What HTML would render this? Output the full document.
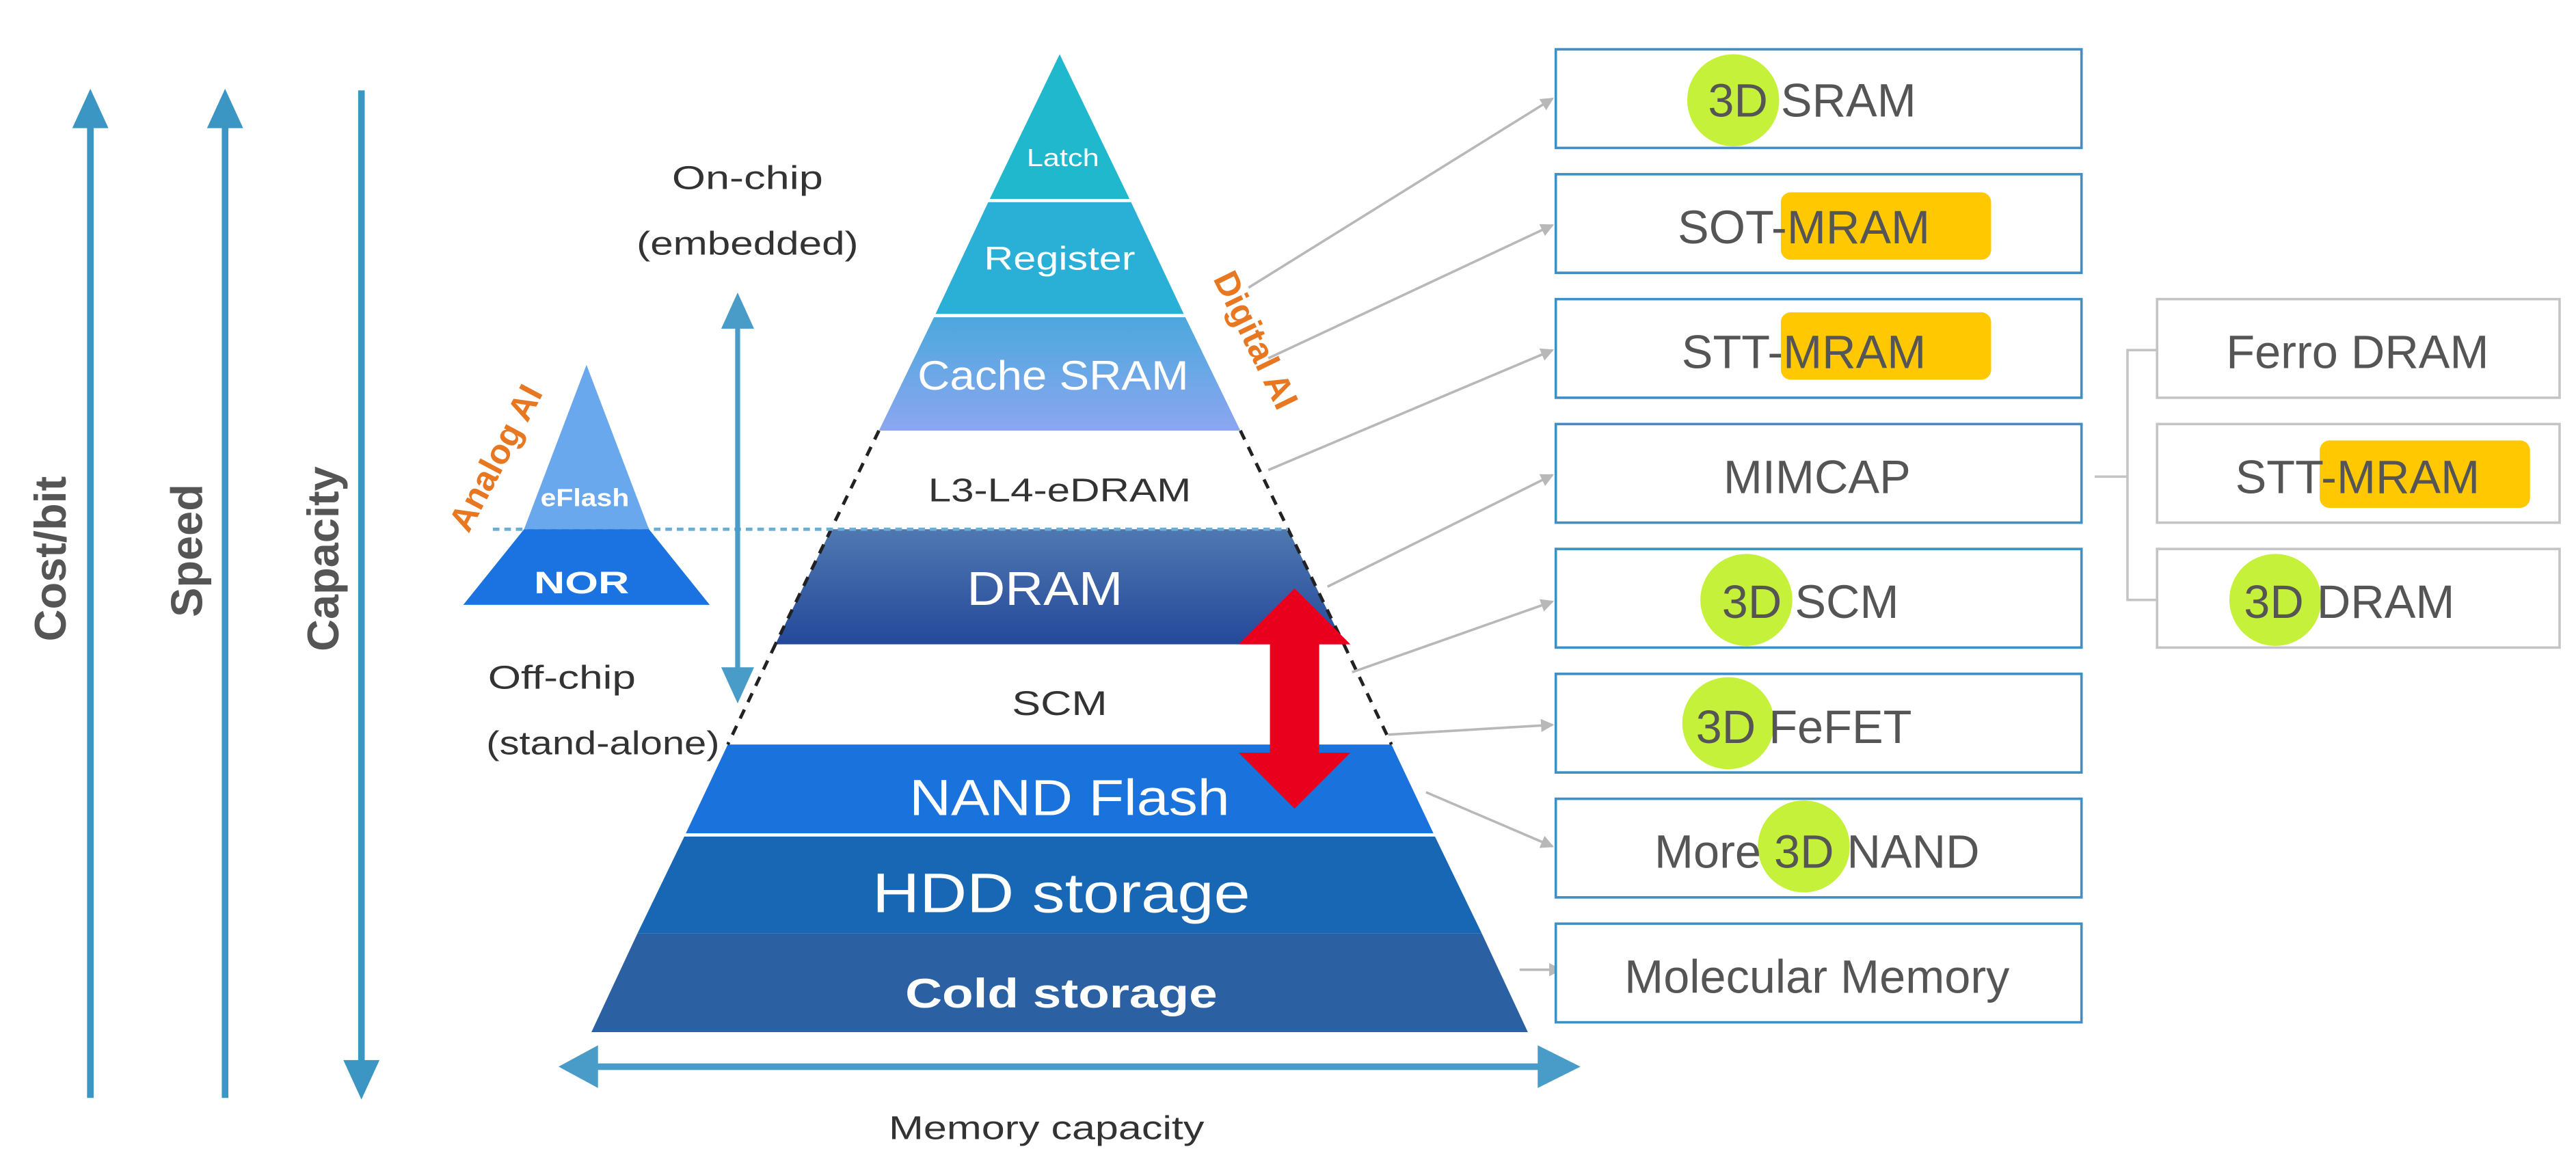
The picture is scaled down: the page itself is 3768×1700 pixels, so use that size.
<!DOCTYPE html>
<html><head><meta charset="utf-8"><style>html,body{margin:0;padding:0;background:#fff}svg{display:block}</style></head><body>
<svg width="3768" height="1700" viewBox="0 0 1568 707" preserveAspectRatio="none" xmlns="http://www.w3.org/2000/svg" font-family="Liberation Sans, sans-serif">
<defs>
<linearGradient id="dram" x1="0" y1="0" x2="0" y2="1"><stop offset="0" stop-color="#4f78b0"/><stop offset="1" stop-color="#24499a"/></linearGradient>
<linearGradient id="cache" x1="0" y1="0" x2="0" y2="1"><stop offset="0" stop-color="#4aa8dc"/><stop offset="1" stop-color="#8ca6f0"/></linearGradient>
<marker id="ga" markerWidth="8" markerHeight="8" refX="7" refY="4" orient="auto" markerUnits="userSpaceOnUse"><path d="M0,0 L8,4 L0,8 Z" fill="#b8b8b8"/></marker>
</defs>
<g fill="#3b96c3" stroke="#3b96c3">
<line x1="55" y1="75" x2="55" y2="668" stroke-width="4"/><path d="M44,78 L55,54 L66,78 Z" stroke="none"/>
<line x1="137" y1="75" x2="137" y2="668" stroke-width="4"/><path d="M126,78 L137,54 L148,78 Z" stroke="none"/>
<line x1="220" y1="55" x2="220" y2="648" stroke-width="4"/><path d="M209,645 L220,669 L231,645 Z" stroke="none"/>
</g>
<g fill="#555" font-weight="bold" font-size="27">
<text transform="translate(40,340) rotate(-90)" text-anchor="middle">Cost/bit</text>
<text transform="translate(123,335) rotate(-90)" text-anchor="middle">Speed</text>
<text transform="translate(206,340) rotate(-90)" text-anchor="middle">Capacity</text>
</g>
<polygon points="645,33 602,122 688,122" fill="#1fb8cc"/>
<polygon points="602,122 688,122 721,192 569,192" fill="#2ab0d6"/>
<polygon points="569,192 721,192 755,262 535,262" fill="url(#cache)"/>
<polygon points="506,322 784,322 818,392 472,392" fill="url(#dram)"/>
<polygon points="443,453 847,453 873,508 417,508" fill="#1a72dc"/>
<polygon points="417,508 873,508 902,568 388,568" fill="#1767b4"/>
<polygon points="388,568 902,568 930,628 360,628" fill="#2b60a2"/>
<g stroke="#fff" stroke-width="2"><line x1="600" y1="122" x2="690" y2="122"/><line x1="567" y1="192" x2="723" y2="192"/><line x1="415" y1="508" x2="875" y2="508"/></g>
<g stroke="#222" stroke-width="2" stroke-dasharray="6,5"><line x1="535" y1="262" x2="472" y2="392"/><line x1="755" y1="262" x2="818" y2="392"/><line x1="472" y1="392" x2="443" y2="453"/><line x1="818" y1="392" x2="847" y2="453"/></g>
<line x1="300" y1="322" x2="784" y2="322" stroke="#6aaed6" stroke-width="2" stroke-dasharray="4,3"/>
<polygon points="357,222 319,322 395,322" fill="#6aa8ee"/>
<polygon points="319,322 395,322 432,368 282,368" fill="#1a73e0"/>
<g fill="#fff" text-anchor="middle">
<text x="647" y="101" font-size="15" textLength="44" lengthAdjust="spacingAndGlyphs">Latch</text>
<text x="645" y="164" font-size="20" textLength="92" lengthAdjust="spacingAndGlyphs">Register</text>
<text x="641" y="237" font-size="25" textLength="165" lengthAdjust="spacingAndGlyphs">Cache SRAM</text>
<text x="636" y="368" font-size="29" textLength="95" lengthAdjust="spacingAndGlyphs">DRAM</text>
<text x="651" y="496" font-size="31" textLength="195" lengthAdjust="spacingAndGlyphs">NAND Flash</text>
<text x="646" y="555" font-size="34" textLength="230" lengthAdjust="spacingAndGlyphs">HDD storage</text>
<text x="646" y="613" font-size="25" font-weight="bold" textLength="190" lengthAdjust="spacingAndGlyphs">Cold storage</text>
<text x="356" y="308" font-size="15" font-weight="bold" textLength="54" lengthAdjust="spacingAndGlyphs">eFlash</text>
<text x="354" y="361" font-size="19" font-weight="bold" textLength="58" lengthAdjust="spacingAndGlyphs">NOR</text>
</g>
<g fill="#333" text-anchor="middle">
<text x="645" y="305" font-size="20" textLength="160" lengthAdjust="spacingAndGlyphs">L3-L4-eDRAM</text>
<text x="645" y="435" font-size="21" textLength="58" lengthAdjust="spacingAndGlyphs">SCM</text>
<text x="455" y="115" font-size="20" textLength="92" lengthAdjust="spacingAndGlyphs">On-chip</text>
<text x="455" y="155" font-size="20" textLength="135" lengthAdjust="spacingAndGlyphs">(embedded)</text>
<text x="637" y="693" font-size="20" textLength="192" lengthAdjust="spacingAndGlyphs">Memory capacity</text>
</g>
<g fill="#333">
<text x="297" y="419" font-size="20" textLength="90" lengthAdjust="spacingAndGlyphs">Off-chip</text>
<text x="296" y="459" font-size="20" textLength="142" lengthAdjust="spacingAndGlyphs">(stand-alone)</text>
</g>
<g fill="#4a9cc8" stroke="#4a9cc8">
<line x1="449" y1="195" x2="449" y2="412" stroke-width="3"/>
<path d="M439,200 L449,178 L459,200 Z" stroke="none"/><path d="M439,406 L449,428 L459,406 Z" stroke="none"/>
<line x1="360" y1="649" x2="940" y2="649" stroke-width="4"/>
<path d="M364,636 L340,649 L364,662 Z" stroke="none"/><path d="M936,636 L962,649 L936,662 Z" stroke="none"/>
</g>
<path d="M788,358 L822,392 L803,392 L803,458 L822,458 L788,492 L754,458 L773,458 L773,392 L754,392 Z" fill="#e8001c"/>
<text transform="translate(758,210) rotate(64)" text-anchor="middle" fill="#e87722" font-weight="bold" font-size="21">Digital AI</text>
<text transform="translate(308,282) rotate(-62)" text-anchor="middle" fill="#e87722" font-weight="bold" font-size="21">Analog AI</text>
<g stroke="#b8b8b8" stroke-width="1.5" marker-end="url(#ga)">
<line x1="760" y1="175" x2="945" y2="60"/>
<line x1="772" y1="218" x2="945" y2="137"/>
<line x1="772" y1="286" x2="945" y2="213"/>
<line x1="808" y1="357" x2="945" y2="289"/>
<line x1="823" y1="409" x2="945" y2="366"/>
<line x1="845" y1="447" x2="945" y2="441"/>
<line x1="868" y1="482" x2="945" y2="515"/>
<line x1="925" y1="590" x2="950" y2="590"/>
</g>
<g fill="#fff" stroke="#3d8fc4" stroke-width="1.5">
<rect x="947" y="30" width="320" height="60"/><rect x="947" y="106" width="320" height="60"/>
<rect x="947" y="182" width="320" height="60"/><rect x="947" y="258" width="320" height="60"/>
<rect x="947" y="334" width="320" height="60"/><rect x="947" y="410" width="320" height="60"/>
<rect x="947" y="486" width="320" height="60"/><rect x="947" y="562" width="320" height="60"/>
</g>
<g fill="#fff" stroke="#c4c4c4" stroke-width="1.5">
<rect x="1313" y="182" width="245" height="60"/><rect x="1313" y="258" width="245" height="60"/><rect x="1313" y="334" width="245" height="60"/>
</g>
<path d="M1275,290 L1295,290 M1313,213 L1295,213 L1295,365 L1313,365" fill="none" stroke="#c4c4c4" stroke-width="1.5"/>
<g fill="#c6f13a"><circle cx="1055" cy="61" r="28"/><circle cx="1063" cy="365" r="28"/><circle cx="1052" cy="440" r="28"/><circle cx="1098" cy="515" r="28"/><circle cx="1385" cy="365" r="28"/></g>
<g fill="#ffc800"><rect x="1084" y="117" width="128" height="41" rx="6"/><rect x="1084" y="190" width="128" height="41" rx="6"/><rect x="1412" y="268" width="128" height="41" rx="6"/></g>
<g fill="#555" font-size="28.5" text-anchor="middle">
<text x="1103" y="71">3D SRAM</text>
<text x="1098" y="148">SOT-MRAM</text>
<text x="1098" y="224">STT-MRAM</text>
<text x="1106" y="300">MIMCAP</text>
<text x="1102" y="376">3D SCM</text>
<text x="1098" y="452">3D FeFET</text>
<text x="1106" y="528">More 3D NAND</text>
<text x="1106" y="604">Molecular Memory</text>
<text x="1435" y="224">Ferro DRAM</text>
<text x="1435" y="300">STT-MRAM</text>
<text x="1430" y="376">3D DRAM</text>
</g>
</svg>
</body></html>
